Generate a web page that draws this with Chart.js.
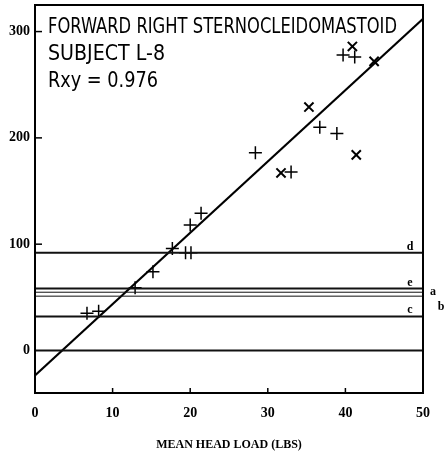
<!DOCTYPE html>
<html><head><meta charset="utf-8">
<script src="https://cdn.jsdelivr.net/npm/chart.js@4"></script>
<style>html,body{margin:0;padding:0;background:#fff}</style>
</head><body>
<canvas id="c" width="446" height="457"></canvas>
<script>
// ---- data ----
const xTicks = [0, 10, 20, 30, 40, 50];
const yTicks = [0, 100, 200, 300];
const plusX = [6.7, 8.2, 12.9, 15.2, 17.7, 19.4, 20.1, 20.0, 21.4, 28.4, 33.0, 36.7, 38.9, 39.7, 41.2];
const plusY = [35, 37, 59, 74, 96, 92, 92, 118, 129, 186, 168, 210, 204, 278, 276];
const crossX = [31.7, 35.3, 41.4, 40.9, 43.7];
const crossY = [167, 229, 184, 286, 272];
const fitX = [0, 50];
const fitY = [-23.5, 312];
const levelNames = ['d', 'e', 'a', 'b', 'c', ''];
const levelValues = [92, 58.3, 54.8, 51.1, 32, 0];
const levelWidths = [2, 2, 1, 1, 2, 2];
const noteLines = ['FORWARD RIGHT STERNOCLEIDOMASTOID', 'SUBJECT L-8', 'Rxy = 0.976'];
const xTitle = 'MEAN HEAD LOAD (LBS)';

const pts = (xs, ys) => xs.map((x, i) => ({x, y: ys[i]}));

const datasets = [];
levelValues.forEach((v, i) => {
  datasets.push({type: 'line', data: [{x: 0, y: v}, {x: 50, y: v}], borderColor: '#111',
    borderWidth: levelWidths[i], pointRadius: 0, fill: false});
});
datasets.push({type: 'line', data: pts(fitX, fitY), borderColor: '#000', borderWidth: 2, pointRadius: 0, fill: false});
datasets.push({type: 'scatter', data: pts(plusX, plusY), pointStyle: 'cross', pointRadius: 6.5,
  borderColor: '#000', borderWidth: 1.5, backgroundColor: '#000'});
datasets.push({type: 'scatter', data: pts(crossX, crossY), pointStyle: 'crossRot', pointRadius: 6.5,
  borderColor: '#000', borderWidth: 2, backgroundColor: '#000'});

const overlay = {
  id: 'overlay',
  afterDatasetsDraw(chart) {
    const {ctx, chartArea: a, scales: {x, y}} = chart;
    ctx.save();
    ctx.strokeStyle = '#000';
    ctx.lineWidth = 2;
    ctx.strokeRect(a.left, a.top, a.right - a.left, a.bottom - a.top);
    ctx.lineWidth = 1.5;
    yTicks.forEach(v => { const py = y.getPixelForValue(v); if (v === 0) return;
      ctx.beginPath(); ctx.moveTo(a.left, py); ctx.lineTo(a.left + 7, py); ctx.stroke(); });
    xTicks.forEach(v => { const px = x.getPixelForValue(v); if (v === 0 || v === 50) return;
      ctx.beginPath(); ctx.moveTo(px, a.bottom); ctx.lineTo(px, a.bottom - 5); ctx.stroke(); });
    // annotation
    ctx.fillStyle = '#000';
    ctx.textBaseline = 'alphabetic';
    ctx.textAlign = 'left';
    ctx.font = "21px 'Liberation Sans Narrow', 'DejaVu Sans Condensed', 'DejaVu Sans', sans-serif";
    const widths = [349, 117, 110];
    const baseY = [33, 60, 87];
    noteLines.forEach((t, i) => {
      const m = ctx.measureText(t).width;
      ctx.save();
      ctx.translate(48, baseY[i]);
      ctx.scale(widths[i] / m, 1);
      ctx.fillText(t, 0, 0);
      ctx.restore();
    });
    // level letters
    ctx.font = "bold 12px 'Liberation Serif', serif";
    const pos = {d: [410, -3], e: [410, -3], c: [410, -3], a: [433, 3], b: [441, 14]};
    levelNames.forEach((n, i) => {
      if (!n) return;
      const py = y.getPixelForValue(levelValues[i]);
      ctx.textAlign = 'center';
      ctx.fillText(n, pos[n][0], py + pos[n][1]);
    });
    ctx.restore();
  }
};

new Chart(document.getElementById('c'), {
  data: {datasets},
  options: {
    responsive: false,
    devicePixelRatio: 1,
    animation: false,
    layout: {autoPadding: false, padding: {top: 5, right: 23, left: 0, bottom: 0}},
    plugins: {legend: {display: false}, tooltip: {enabled: false}},
    scales: {
      x: {type: 'linear', min: 0, max: 50,
        afterBuildTicks: s => { s.ticks = xTicks.map(v => ({value: v})); },
        afterFit: s => { s.height = 64; s.paddingLeft = 0; s.paddingRight = 0; },
        grid: {display: false, drawTicks: false}, border: {display: false},
        ticks: {padding: 12, color: '#000', font: {family: "'Liberation Serif', serif", weight: 'bold', size: 14}, maxRotation: 0},
        title: {display: true, text: xTitle, color: '#000', padding: {top: 0, bottom: 5},
          font: {family: "'Liberation Serif', serif", size: 12, weight: 'bold'}}
      },
      y: {type: 'linear', min: -40, max: 325,
        afterBuildTicks: s => { s.ticks = yTicks.map(v => ({value: v})); },
        afterFit: s => { s.width = 35; s.paddingTop = 0; s.paddingBottom = 0; },
        grid: {display: false, drawTicks: false}, border: {display: false},
        ticks: {padding: 5, color: '#000', font: {family: "'Liberation Serif', serif", weight: 'bold', size: 14}}
      }
    }
  },
  plugins: [overlay]
});
</script>
</body></html>
